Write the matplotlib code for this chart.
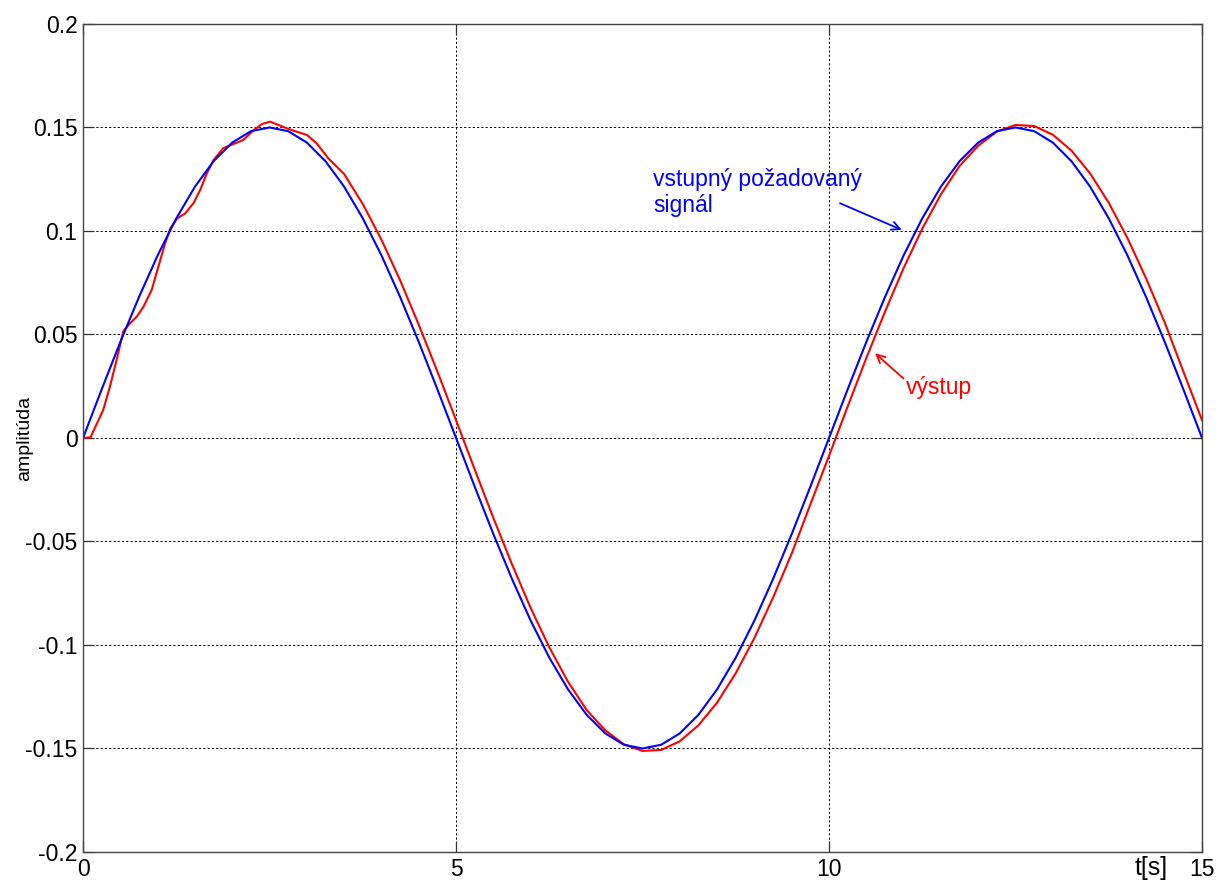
"""Reference input vs. system output (time response)."""
import matplotlib

matplotlib.use("Agg")
import matplotlib.pyplot as plt
import numpy as np

plt.rcParams["font.family"] = ["Liberation Sans", "DejaVu Sans"]

# Desired input signal, sampled every 0.25 s
t_input = np.linspace(0, 15, 61)
y_input = [
    0.0000, 0.0235, 0.0464, 0.0681, 0.0882, 0.1061, 0.1214, 0.1337, 0.1427, 0.1482, 0.1500,
    0.1482, 0.1427, 0.1337, 0.1214, 0.1061, 0.0882, 0.0681, 0.0464, 0.0235, 0.0000,
    -0.0235, -0.0464, -0.0681, -0.0882, -0.1061, -0.1214, -0.1337, -0.1427, -0.1482, -0.1500,
    -0.1482, -0.1427, -0.1337, -0.1214, -0.1061, -0.0882, -0.0681, -0.0464, -0.0235, 0.0000,
    0.0235, 0.0464, 0.0681, 0.0882, 0.1061, 0.1214, 0.1337, 0.1427, 0.1482, 0.1500,
    0.1482, 0.1427, 0.1337, 0.1214, 0.1061, 0.0882, 0.0681, 0.0464, 0.0235, 0.0000,
]

# Output - transient part (irregular samples)
t_out_start = [
    0.00, 0.10, 0.16, 0.27, 0.36, 0.45, 0.54, 0.63, 0.72, 0.81, 0.92, 1.01, 1.10, 1.17,
    1.26, 1.37, 1.48, 1.57, 1.66, 1.75, 1.88, 2.01, 2.15, 2.28, 2.40, 2.51, 2.62, 2.73,
    2.86, 3.00, 3.13, 3.29,
]
y_out_start = [
    0.0000, 0.0003, 0.0050, 0.0135, 0.0248, 0.0377, 0.0516, 0.0554, 0.0586, 0.0634,
    0.0715, 0.0828, 0.0940, 0.1013, 0.1060, 0.1085, 0.1134, 0.1198, 0.1279, 0.1343,
    0.1400, 0.1419, 0.1440, 0.1485, 0.1517, 0.1528, 0.1512, 0.1496, 0.1480, 0.1464,
    0.1424, 0.1350,
]

# Output - steady part, every 0.25 s from 3.5 s
t_out_rest = np.linspace(3.5, 15, 47)
y_out_rest = [
    0.1275, 0.1130, 0.0958, 0.0762, 0.0547, 0.0321, 0.0086, -0.0152, -0.0386, -0.0610,
    -0.0821, -0.1011, -0.1177, -0.1314, -0.1412, -0.1480, -0.1512, -0.1507, -0.1465,
    -0.1388, -0.1278, -0.1136, -0.0966, -0.0771, -0.0558, -0.0321, -0.0086, 0.0152,
    0.0386, 0.0610, 0.0821, 0.1011, 0.1177, 0.1314, 0.1412, 0.1480, 0.1512, 0.1507,
    0.1465, 0.1388, 0.1278, 0.1136, 0.0966, 0.0771, 0.0558, 0.0321, 0.0086,
]

x_ticks = [0, 5, 10, 15]
y_ticks = [-0.2, -0.15, -0.1, -0.05, 0, 0.05, 0.1, 0.15, 0.2]
y_ticklabels = ["-0.2", "-0.15", "-0.1", "-0.05", "0", "0.05", "0.1", "0.15", "0.2"]

t_out = np.concatenate([t_out_start, t_out_rest])
y_out = np.concatenate([y_out_start, y_out_rest])

fig = plt.figure(figsize=(12.16, 8.94), dpi=100)
ax = fig.add_axes([0.0683, 0.0470, 0.9202, 0.9262])

ax.plot(t_out, y_out, color="#ff0000", lw=1.5)
ax.plot(t_input, y_input, color="#0000ff", lw=1.5)

ax.set_xlim(0, 15)
ax.set_ylim(-0.2, 0.2)
ax.set_xticks(x_ticks)
ax.set_xticklabels([str(v) for v in x_ticks])
ax.set_yticks(y_ticks)
ax.set_yticklabels(y_ticklabels)
ax.tick_params(direction="in", length=8, width=0.9, color="#333333",
               labelsize=16.5, pad=4, top=True, right=True)
ax.grid(True, color="black", linestyle=(0, (2.2, 2.2)), linewidth=0.7)
for sp in ax.spines.values():
    sp.set_color("#444444")
    sp.set_linewidth(1.0)

ax.set_ylabel("amplitúda", fontsize=14)
ax.yaxis.set_label_coords(-0.0447, 0.5)
ax.text(14.1, -0.2111, "t[s]", fontsize=18, va="baseline", ha="left", clip_on=False)

# annotations
ax.text(7.64, 0.1093, "vstupný požadovaný\nsignál", color="#0000ff", fontsize=16.5,
        va="baseline", ha="left", linespacing=1.15)
ax.annotate("", xy=(10.975, 0.1005), xytext=(10.147, 0.1134),
            arrowprops=dict(arrowstyle="->,head_length=0.6,head_width=0.3",
                            color="#0000ff", lw=1.3, shrinkA=0, shrinkB=0))
ax.text(11.03, 0.0213, "výstup", color="#ff0000", fontsize=16.5, va="baseline", ha="left")
ax.annotate("", xy=(10.617, 0.0409), xytext=(10.996, 0.0288),
            arrowprops=dict(arrowstyle="->,head_length=0.6,head_width=0.3",
                            color="#ff0000", lw=1.3, shrinkA=0, shrinkB=0))

fig.savefig("out.png", dpi=100, facecolor="white")
